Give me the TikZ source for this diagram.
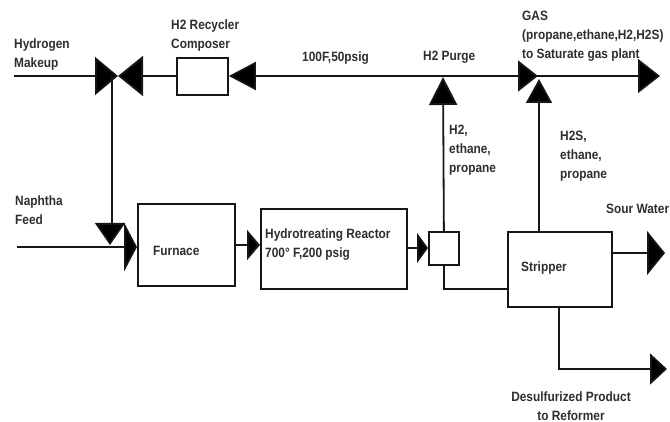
\documentclass[tikz,border=0pt]{standalone}
\usepackage{fontspec}
\setmainfont[FakeStretch=0.88]{Liberation Sans}
\usetikzlibrary{arrows.meta}
\definecolor{cline}{HTML}{161616}
\definecolor{ctext}{HTML}{2E2E2E}
\tikzset{
  unit/.style={draw=cline, line width=1.8pt, fill=white, rectangle, inner sep=0pt, anchor=north west},
  lbl/.style={font=\fontsize{13.5}{19}\selectfont\bfseries, text=ctext, align=left, inner sep=0pt, anchor=north west},
  pipe/.style={draw=cline, line width=1.8pt},
  flow/.style n args={2}{pipe, -{Triangle[length=#1pt, width=#2pt, fill=black]}},
}
\begin{document}
\begin{tikzpicture}[x=1pt,y=-1pt]
\useasboundingbox (0,0) rectangle (670,422);
% units
\node[unit, minimum width=51pt, minimum height=37pt] (recycler) at (176,57) {};
\node[unit, minimum width=97pt, minimum height=82pt] (furnace) at (137,203) {};
\node[unit, minimum width=146pt, minimum height=80pt] (reactor) at (260,208) {};
\node[unit, minimum width=30pt, minimum height=33pt] (sep) at (428,231) {};
\node[unit, minimum width=104pt, minimum height=75pt] (stripper) at (507,231) {};
% free ends
\coordinate (h2in) at (14,76);
\coordinate (valve) at (118,76);
\coordinate (recin) at (255,76);
\coordinate (purge) at (443,77);
\coordinate (gasin) at (538,76);
\coordinate (gasout) at (660,76);
\coordinate (feedin) at (17,247);
\coordinate (feed) at (137,247);
\coordinate (tee) at (110,245);
\coordinate (water) at (665,253);
\coordinate (product) at (667,369);
% top line
\draw[flow={23}{38}] (h2in) -- (valve);
\draw[flow={25}{40}] (recycler.west |- valve) -- (valve);
\draw[flow={27}{28}] (gasin) -- (recycler.east |- recin);
\draw[flow={22}{34}] (gasin) -- (gasout);
\draw[flow={20}{31}] (purge |- gasin) -- (gasin);
% risers
\draw[flow={28}{28}] (sep.north) -- (purge);
\draw[flow={24}{26}] (stripper.north -| 539,0) -- (539,79);
\draw[pipe] (112,76) -- (112,223);
\draw[flow={22}{30}] (110,223) -- (tee);
% feed and train
\draw[flow={13}{49}] (feedin) -- (feed);
\draw[flow={13}{30}] (furnace.east |- 0,245) -- (reactor.west |- 0,245);
\draw[flow={11}{30}] (reactor.east |- 0,248) -- (sep.west |- 0,248);
\draw[pipe] (sep.south) |- (stripper.west |- 0,289);
% outlets
\draw[flow={18}{44}] (stripper.east |- water) -- (water);
\draw[flow={17}{31}] (559,306) |- (product);
% labels
\node[lbl] (lh2) at (14,38.5) {Hydrogen\\Makeup};
\node[lbl] (lrec) at (171,19.5) {H2 Recycler\\Composer};
\node[lbl] (lcond) at (302,51.5) {100F,50psig};
\node[lbl] (lpurge) at (423,50.5) {H2 Purge};
\node[lbl] (lgas) at (522,10.5) {GAS\\(propane,ethane,H2,H2S)\\to Saturate gas plant};
\node[lbl] (lh2mix) at (449,124.5) {H2,\\ethane,\\propane};
\node[lbl] (lh2s) at (560,130.5) {H2S,\\ethane,\\propane};
\node[lbl] (lwater) at (606,203.5) {Sour Water};
\node[lbl] (lfeed) at (15,195.5) {Naphtha\\Feed};
\node[lbl] (lfurn) at (153,246.5) {Furnace};
\node[lbl] (lreact) at (265,228.5) {Hydrotreating Reactor\\700° F,200 psig};
\node[lbl] (lstrip) at (521,261.5) {Stripper};
\node[lbl, align=center, anchor=north] (lprod) at (571,391.5) {Desulfurized Product\\to Reformer};
\end{tikzpicture}
\end{document}
